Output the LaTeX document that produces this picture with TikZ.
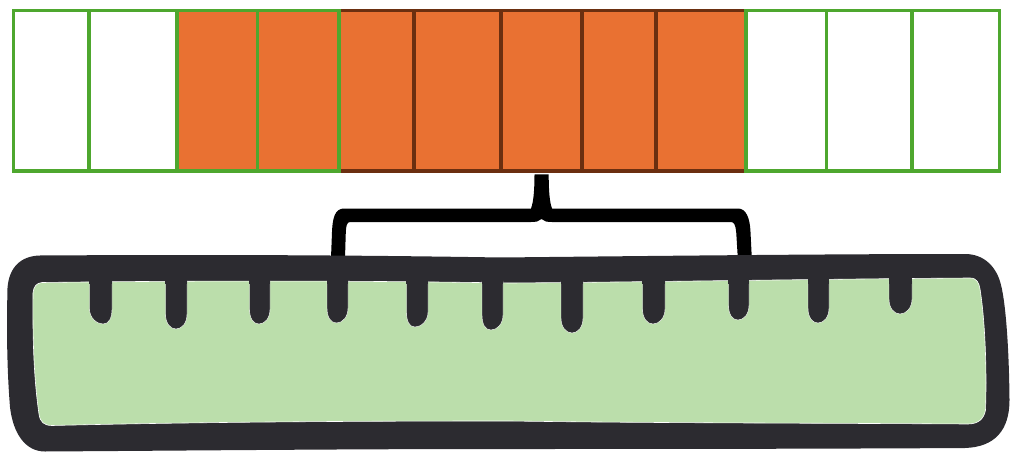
\documentclass[tikz,border=0pt]{standalone}
\definecolor{cellorange}{HTML}{E97132}
\definecolor{cellgreen}{HTML}{4EA72E}
\definecolor{cellbrown}{HTML}{6B2F10}
\definecolor{rulerdark}{HTML}{2C2B30}
\definecolor{rulerfill}{HTML}{BBDEAB}
\tikzset{
  greencell/.style={draw=cellgreen,line width=3.7pt,line join=miter},
  browncell/.style={draw=cellbrown,line width=3.7pt,line join=miter},
  hot/.style={fill=cellorange},
  rulerbody/.style={fill=rulerdark},
  rulerface/.style={fill=rulerfill,draw=white,line width=0.6pt},
  rulertick/.style={fill=rulerdark,draw=white,line width=0.4pt},
  bracket/.style={fill=black}
}
% tick: left x, right x, bottom y, bottom centre x
\newcommand{\rulermark}[4]{%
  \path[rulertick] (#1,281) -- (#1,#3-15)
    .. controls (#1,#3-6) and (#4-6,#3) .. (#4,#3)
    .. controls (#4+6,#3) and (#2,#3-6) .. (#2,#3-15)
    -- (#2,281) -- cycle;
  \fill[rulerdark] (#1-0.3,276) rectangle (#2+0.3,284);
}
\begin{document}
\begin{tikzpicture}[x=1pt,y=-1pt]
\useasboundingbox (0,0) rectangle (1019,457);
% cell fills
\path[hot] (176.7,10.5) rectangle (745.7,171.3);
% brown cells
\draw[browncell] (339,10.5) rectangle (745.7,171.3);
\draw[browncell] (413.8,10.5) -- (413.8,171.3);
\draw[browncell] (500.8,10.5) -- (500.8,171.3);
\draw[browncell] (582,10.5) -- (582,171.3);
\draw[browncell] (655.7,10.5) -- (655.7,171.3);
% green cells
\draw[greencell] (13.5,10.5) rectangle (339,171.3);
\draw[greencell] (745.7,10.5) rectangle (999.5,171.3);
\draw[greencell] (88.7,10.5) -- (88.7,171.3);
\draw[greencell] (176.7,10.5) -- (176.7,171.3);
\draw[greencell] (257.5,10.5) -- (257.5,171.3);
\draw[greencell] (826.5,10.5) -- (826.5,171.3);
\draw[greencell] (912.2,10.5) -- (912.2,171.3);
% bracket
\path[bracket] (534.5,174.5) -- (548.7,174.5)
  .. controls (548.7,190) and (549.5,202) .. (552,208.5)
  -- (738,208.5) .. controls (746,208.5) and (750,218) .. (750.5,232)
  -- (751.8,258) -- (737.8,258) -- (736.2,232)
  .. controls (735.5,225) and (734,222) .. (731,222)
  -- (552,222) .. controls (547,222) and (544,221.5) .. (541.5,219)
  .. controls (539,221.5) and (536,222) .. (531,222)
  -- (350,222) .. controls (347,222) and (346,226) .. (345.8,232)
  -- (345,258) -- (331,258) -- (332,232)
  .. controls (332.5,218) and (335,208.5) .. (344,208.5)
  -- (531,208.5) .. controls (533.5,202) and (534.5,190) .. cycle;
% ruler body
\path[rulerbody] (40,255.5) .. controls (200,254.5) and (350,255) .. (500,257.5)
  .. controls (650,256) and (820,254) .. (965,254)
  .. controls (985,254) and (997,268) .. (1001,285)
  .. controls (1006,305) and (1009,350) .. (1009.5,400)
  .. controls (1009.5,430) and (995,447) .. (965,448)
  .. controls (800,449) and (600,449) .. (500,449)
  .. controls (350,449) and (200,450.5) .. (45,451.5)
  .. controls (25,451.5) and (13,433) .. (10,407)
  .. controls (7,370) and (6.5,330) .. (7.5,288)
  .. controls (9,268) and (20,256) .. (40,255.5) -- cycle;
% ruler face
\path[rulerface] (42,282.5) .. controls (200,280.5) and (350,280.5) .. (510,283)
  .. controls (650,282) and (820,279) .. (970,278)
  .. controls (977,278) and (979,283) .. (980,289)
  .. controls (985,320) and (987,370) .. (985.5,410)
  .. controls (984,419) and (978,424) .. (968,424)
  .. controls (800,423) and (650,423) .. (510,421)
  .. controls (350,421) and (200,422) .. (52,425.5)
  .. controls (44,425.5) and (40,422) .. (39,414)
  .. controls (34,380) and (32.5,340) .. (33,293)
  .. controls (33.5,286) and (37,283) .. (42,282.5) -- cycle;
% ticks
\rulermark{89.5}{112}{324}{103}
\rulermark{165.5}{187}{329}{176}
\rulermark{249.5}{270}{324}{259}
\rulermark{327}{348}{323}{336.5}
\rulermark{406.5}{428}{327}{415}
\rulermark{482}{503}{330}{491}
\rulermark{561}{583}{333}{572}
\rulermark{642.5}{665}{324}{653}
\rulermark{728.5}{749}{320}{738}
\rulermark{808}{829}{323}{818}
\rulermark{889}{912}{314}{900}
\end{tikzpicture}
\end{document}
